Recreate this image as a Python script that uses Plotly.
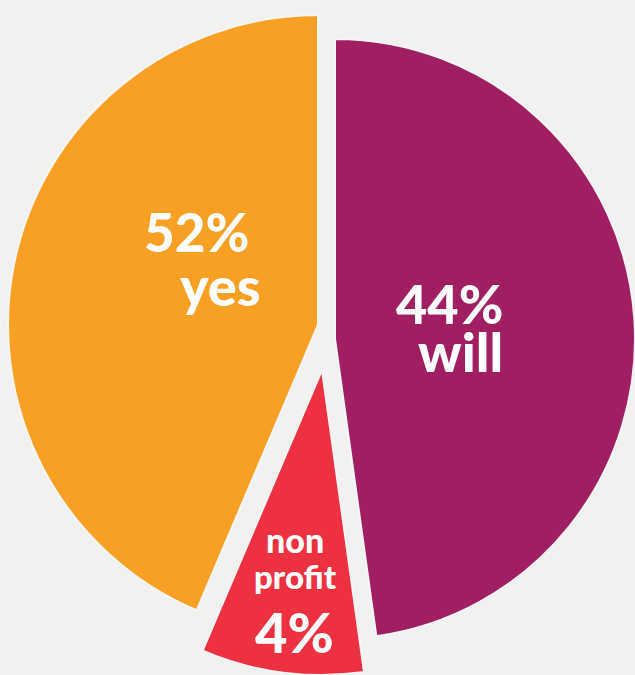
import plotly.graph_objects as go

W, H = 635, 675

# Data
categories = ["will", "non profit", "yes"]
label_pcts = ["44%", "4%", "52%"]
# angular shares of the slices as drawn (clockwise from 12 o'clock)
slice_shares = [47.8, 8.6, 43.6]
colors = ["#A01F62", "#EE3141", "#F7A024"]

# placement of each exploded piece: centre (px) and radius (px)
pieces = {
    "will": (335, 339, 300),
    "non profit": (322, 370, 305),
    "yes": (318, 325, 310),
}

BG = "#F1F1F0"
EDGE = "#F4F5F7"

fig = go.Figure()
for i, cat in enumerate(categories):
    cx, cy, r = pieces[cat]
    mcolors = [colors[j] if j == i else "rgba(0,0,0,0)" for j in range(len(categories))]
    lcolors = [EDGE if j == i else "rgba(0,0,0,0)" for j in range(len(categories))]
    fig.add_trace(go.Pie(
        labels=categories,
        values=slice_shares,
        sort=False,
        direction="clockwise",
        rotation=0,
        marker=dict(colors=mcolors, line=dict(color=lcolors, width=2)),
        textinfo="none",
        hoverinfo="skip",
        showlegend=False,
        domain=dict(x=[(cx - r) / W, (cx + r) / W],
                    y=[1 - (cy + r) / H, 1 - (cy - r) / H]),
    ))

FONT = "Lato"

def label(text, px, py, size):
    fig.add_annotation(
        text=text, x=px / W, y=1 - py / H, xref="paper", yref="paper",
        xanchor="center", yanchor="middle", showarrow=False,
        font=dict(family=FONT, size=size, color="white", weight=900),
    )

label(label_pcts[2], 196, 232, 53)
label(categories[2], 220, 285, 54)
label(label_pcts[0], 449, 304, 54)
label(categories[0], 460, 352, 54)
label("non", 295, 539, 34)
label("profit", 295, 576, 33)
label(label_pcts[1], 294, 631, 56)

fig.update_layout(
    width=W, height=H,
    margin=dict(l=0, r=0, t=0, b=0),
    paper_bgcolor=BG, plot_bgcolor=BG,
)

fig.write_html(
    "out.html",
    config={"displayModeBar": False},
    post_script="document.body.style.margin='0';document.body.style.overflow='hidden';",
)
